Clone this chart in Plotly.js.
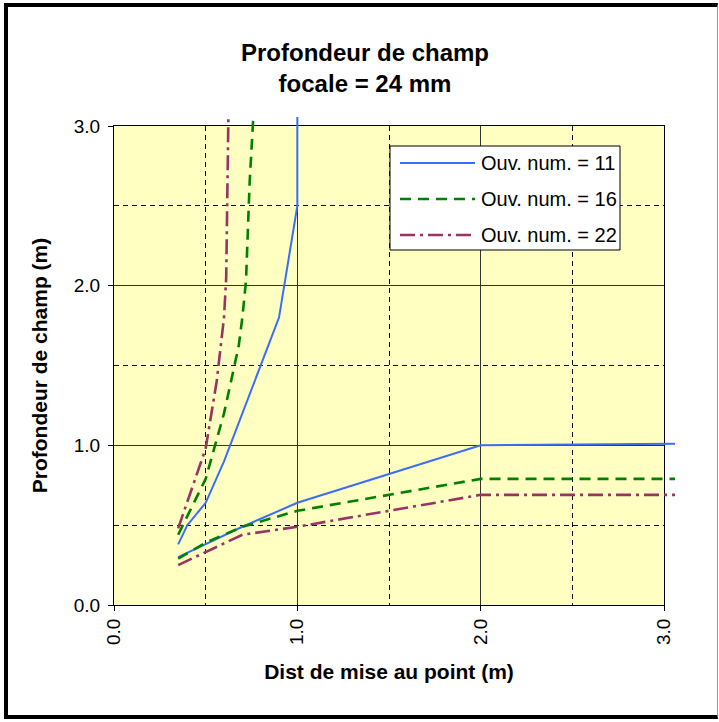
<!DOCTYPE html>
<html>
<head>
<meta charset="utf-8">
<script src="https://cdn.plot.ly/plotly-3.0.1.min.js"></script>
<style>
  html, body { margin: 0; padding: 0; background: #fff; }
  #wrap { position: relative; width: 719px; height: 722px; }
  #chart { position: absolute; left: 0; top: 0; width: 719px; height: 722px; }
  #frame {
    position: absolute; left: 4px; top: 3px; width: 714px; height: 716px;
    box-sizing: border-box; border: 4px solid #000; border-right: 1px solid #999;
    pointer-events: none;
  }
</style>
</head>
<body>
<div id="wrap"><div id="chart"></div><div id="frame"></div></div>
<script>
// Depth of field, 24 mm lens: far and near limits of sharpness
// against focus distance, for three apertures.
const seriesNames = ['Ouv. num. = 11', 'Ouv. num. = 16', 'Ouv. num. = 22'];

// f/11
const farDist11   = [0.35, 0.40, 0.50, 0.60, 0.90, 1.00, 1.00];
const farDepth11  = [0.38, 0.50, 0.64, 0.90, 1.80, 2.50, 3.06];
const nearDist11  = [0.35, 0.50, 0.70, 1.00, 2.00, 3.06];
const nearDepth11 = [0.30, 0.38, 0.49, 0.64, 1.00, 1.01];

// f/16
const farDist16   = [0.35, 0.50, 0.60, 0.64, 0.68, 0.70, 0.72, 0.74, 0.76];
const farDepth16  = [0.44, 0.79, 1.20, 1.41, 1.62, 1.80, 2.03, 2.65, 3.06];
const nearDist16  = [0.35, 0.50, 0.70, 1.00, 2.00, 3.06];
const nearDepth16 = [0.29, 0.39, 0.49, 0.59, 0.79, 0.79];

// f/22
const farDist22   = [0.35, 0.50, 0.56, 0.60, 0.612, 0.624];
const farDepth22  = [0.48, 0.98, 1.40, 1.80, 2.05, 3.06];
const nearDist22  = [0.35, 0.50, 0.70, 1.00, 2.00, 3.06];
const nearDepth22 = [0.25, 0.33, 0.44, 0.49, 0.69, 0.69];

const tickVals   = [0, 1, 2, 3];
const tickText   = ['0.0', '1.0', '2.0', '3.0'];
const minorVals  = [0.5, 1.5, 2.5];

// ---- styling ----
const FONT = "'Liberation Sans', Arial, sans-serif";
const lineStyles = [
  { color: '#3A6CFF', width: 2,   dash: 'solid' },
  { color: '#008000', width: 2.6, dash: '11px,7px' },
  { color: '#993366', width: 2.6, dash: '15px,5px,3px,5px' }
];

// Plot area in pixels; the data layer reaches a little past the
// top and right border so the curves run slightly beyond the frame.
const W = 719, H = 722;
const left = 114, plotRight = 664, extRight = 675;
const bottom = 605, plotTop = 126, extTop = 117;
const extW = extRight - left, extH = bottom - extTop;
const plotW = plotRight - left, plotH = bottom - plotTop;
const AX_MAX = 3;

function branches(farX, farY, nearX, nearY) {
  return { x: farX.concat([null], nearX), y: farY.concat([null], nearY) };
}
const series = [
  branches(farDist11, farDepth11, nearDist11, nearDepth11),
  branches(farDist16, farDepth16, nearDist16, nearDepth16),
  branches(farDist22, farDepth22, nearDist22, nearDepth22)
];

const traces = series.map((s, i) => ({
  type: 'scatter', mode: 'lines', name: seriesNames[i],
  x: s.x, y: s.y, xaxis: 'x2', yaxis: 'y2',
  connectgaps: false, hoverinfo: 'skip',
  line: lineStyles[i]
}));

// paper coordinates of the extended data area
const px = p => (p - left) / extW;
const py = q => (bottom - q) / extH;

const shapes = [
  { type: 'rect', xref: 'x', yref: 'y', x0: 0, x1: AX_MAX, y0: 0, y1: AX_MAX,
    fillcolor: '#FFFFC2', line: { width: 0 }, layer: 'below' },
  // legend box
  { type: 'rect', xref: 'paper', yref: 'paper',
    x0: px(390), x1: px(620), y0: py(250), y1: py(146),
    fillcolor: '#fff', line: { color: '#000', width: 1 }, layer: 'above' }
];
const annotations = [];
const rowY = [163, 199, 235];
seriesNames.forEach((name, i) => {
  shapes.push({ type: 'line', xref: 'paper', yref: 'paper',
    x0: px(400), x1: px(475), y0: py(rowY[i]), y1: py(rowY[i]),
    line: lineStyles[i], layer: 'above' });
  annotations.push({ xref: 'paper', yref: 'paper', x: px(479), y: py(rowY[i]),
    xanchor: 'left', yanchor: 'middle', showarrow: false, text: name,
    font: { family: FONT, size: 20, color: '#000' } });
});

const gridCommon = {
  showgrid: true, gridcolor: '#333', gridwidth: 1,
  zeroline: false, showline: true, mirror: true,
  linecolor: '#000', linewidth: 1,
  ticks: 'outside', ticklen: 5, tickcolor: '#000', tickwidth: 1,
  tickvals: tickVals, ticktext: tickText,
  tickfont: { family: FONT, size: 19, color: '#000' },
  minor: { tickvals: minorVals, showgrid: true, gridcolor: '#111',
           griddash: '5px,4px', gridwidth: 1, ticks: '' },
  range: [0, AX_MAX], fixedrange: true
};

const layout = {
  width: W, height: H,
  margin: { l: left, r: W - extRight, t: extTop, b: H - bottom, pad: 0 },
  paper_bgcolor: 'rgba(0,0,0,0)', plot_bgcolor: 'rgba(0,0,0,0)',
  showlegend: false,
  font: { family: FONT, color: '#000' },
  title: {
    text: 'Profondeur de champ<br>focale = 24 mm',
    font: { family: FONT, size: 24, weight: 'bold', color: '#000' },
    xref: 'container', x: 365 / W, xanchor: 'center',
    yref: 'container', y: 1 - 61 / H, yanchor: 'middle'
  },
  xaxis: Object.assign({}, gridCommon, {
    domain: [0, plotW / extW], anchor: 'y', tickangle: -90,
    title: { text: 'Dist de mise au point (m)', standoff: 20,
             font: { family: FONT, size: 21, weight: 'bold', color: '#000' } }
  }),
  yaxis: Object.assign({}, gridCommon, {
    domain: [0, plotH / extH], anchor: 'x', ticklabelstandoff: 4,
    title: { text: 'Profondeur de champ (m)', standoff: 20,
             font: { family: FONT, size: 21, weight: 'bold', color: '#000' } }
  }),
  xaxis2: { domain: [0, 1], anchor: 'y2', range: [0, AX_MAX * extW / plotW],
            visible: false, fixedrange: true },
  yaxis2: { domain: [0, 1], anchor: 'x2', range: [0, AX_MAX * extH / plotH],
            visible: false, fixedrange: true },
  shapes: shapes,
  annotations: annotations
};

Plotly.newPlot('chart', traces, layout, { staticPlot: true, displayModeBar: false });
</script>
</body>
</html>
